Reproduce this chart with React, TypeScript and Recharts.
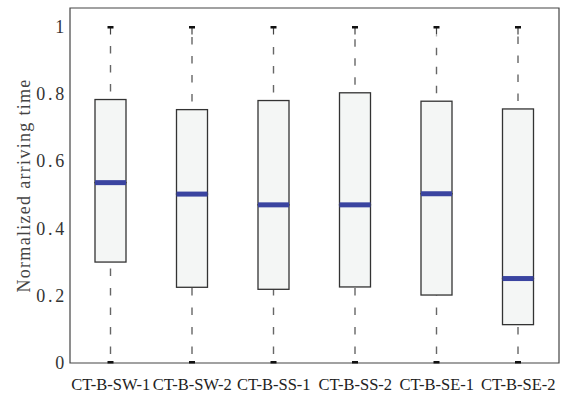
import { ComposedChart, Bar, XAxis, YAxis, ReferenceArea } from "recharts";

const categories = ["CT-B-SW-1", "CT-B-SW-2", "CT-B-SS-1", "CT-B-SS-2", "CT-B-SE-1", "CT-B-SE-2"];
const minValues = [0, 0, 0, 0, 0, 0];
const q1Values = [0.3, 0.225, 0.219, 0.226, 0.202, 0.114];
const medianValues = [0.536, 0.502, 0.47, 0.47, 0.503, 0.251];
const q3Values = [0.783, 0.753, 0.78, 0.803, 0.778, 0.755];
const maxValues = [1, 1, 1, 1, 1, 1];
const yTicks = [0, 0.2, 0.4, 0.6, 0.8, 1];

// stacked segments: base -> lower whisker -> lower box -> upper box -> upper whisker
const data = categories.map((name, i) => ({
    name,
    base: minValues[i],
    lowWhisker: q1Values[i] - minValues[i],
    lowBox: medianValues[i] - q1Values[i],
    highBox: q3Values[i] - medianValues[i],
    highWhisker: maxValues[i] - q3Values[i],
}));

const FONT = "'Liberation Serif', 'DejaVu Serif', serif";
const BOX_STROKE = "#333";
const BOX_FILL = "#f4f6f5";
const MEDIAN = "#3a44a0";
const DASH = "#666";

const Empty = () => <g />;

// dashes are laid out from the lower end upwards, like matlab does
const LowWhisker = (p: any) => {
    const cx = p.x + p.width / 2;
    const bottom = p.y + p.height;
    return (
        <g>
            <line x1={cx} x2={cx} y1={bottom} y2={p.y} stroke={DASH} strokeWidth={1.4}
                strokeDasharray="7.5 12" strokeDashoffset={10.5} />
            <rect x={cx - 3} y={bottom - 2} width={6} height={2.5} fill="#111" />
        </g>
    );
};

const HighWhisker = (p: any) => {
    const cx = p.x + p.width / 2;
    const bottom = p.y + p.height;
    return (
        <g>
            <line x1={cx} x2={cx} y1={bottom} y2={p.y + 9} stroke={DASH} strokeWidth={1.4}
                strokeDasharray="7.5 11.5" strokeDashoffset={11} />
            <line x1={cx} x2={cx} y1={p.y} y2={p.y + 8} stroke="#444" strokeWidth={1.2} />
            <rect x={cx - 3} y={p.y - 0.5} width={6} height={2.5} fill="#111" />
        </g>
    );
};

const LowBox = (p: any) => (
    <rect x={p.x} y={p.y} width={p.width} height={p.height} fill={BOX_FILL} stroke={BOX_STROKE} strokeWidth={1.3} />
);

const HighBox = (p: any) => (
    <g>
        <rect x={p.x} y={p.y} width={p.width} height={p.height} fill={BOX_FILL} stroke={BOX_STROKE} strokeWidth={1.3} />
        <line x1={p.x} x2={p.x + p.width} y1={p.y + p.height} y2={p.y + p.height} stroke={MEDIAN} strokeWidth={5} />
    </g>
);

export default function App() {
    return (
        <div style={{ position: "absolute", left: 0, top: 0 }}>
            <ComposedChart
                width={565}
                height={397}
                data={data}
                margin={{ top: 8, right: 6, left: 0, bottom: 0 }}
                barCategoryGap={0}
            >
                <XAxis
                    dataKey="name"
                    interval={0}
                    height={34}
                    tickLine={false}
                    axisLine={false}
                    tick={{ fontFamily: FONT, fontSize: 16.5, fill: "#222" }}
                    tickMargin={9}
                />
                <YAxis
                    type="number"
                    domain={[0, 1.055]}
                    ticks={yTicks}
                    width={70}
                    tickLine={false}
                    tickSize={0}
                    axisLine={false}
                    tickMargin={3}
                    tick={{ fontFamily: FONT, fontSize: 18, fill: "#333", letterSpacing: 2.75 }}
                    label={{
                        value: "Normalized arriving time",
                        angle: -90,
                        position: "insideLeft",
                        offset: 24,
                        style: { textAnchor: "middle", fontFamily: FONT, fontSize: 18, fill: "#444", letterSpacing: 1.3 },
                    }}
                />
                <ReferenceArea y1={0} y2={1.055} fill="none" stroke="#444" strokeWidth={1.2} />
                <Bar dataKey="base" stackId="box" barSize={31} shape={Empty} isAnimationActive={false} />
                <Bar dataKey="lowWhisker" stackId="box" barSize={31} shape={LowWhisker} isAnimationActive={false} />
                <Bar dataKey="lowBox" stackId="box" barSize={31} shape={LowBox} isAnimationActive={false} />
                <Bar dataKey="highBox" stackId="box" barSize={31} shape={HighBox} isAnimationActive={false} />
                <Bar dataKey="highWhisker" stackId="box" barSize={31} shape={HighWhisker} isAnimationActive={false} />
            </ComposedChart>
        </div>
    );
}
